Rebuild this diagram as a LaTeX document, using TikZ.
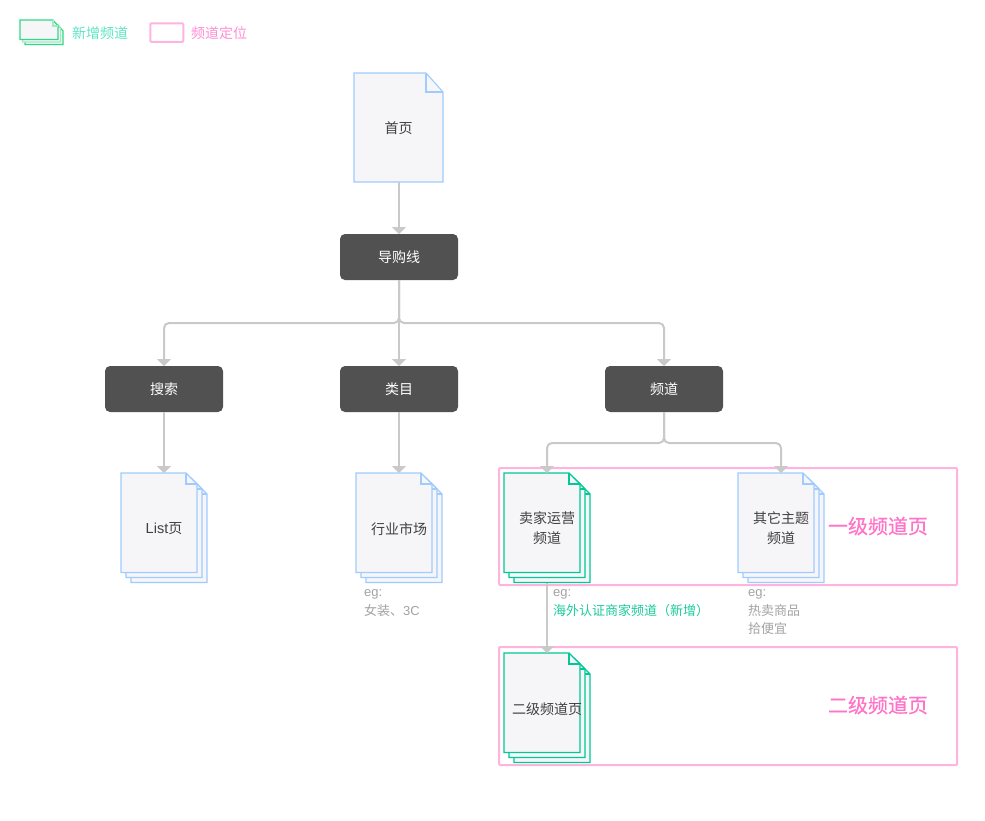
\documentclass[tikz,border=0pt]{standalone}
\usepackage{fontspec}
\setmainfont{Liberation Sans}
\newfontfamily\cjk{Noto Sans CJK SC}
\newfontfamily\cjkheavy[FakeBold=0.35]{Noto Sans CJK SC}
\usetikzlibrary{arrows.meta}
\definecolor{sheetfill}{HTML}{F6F6F9}
\definecolor{sheetblue}{HTML}{9FCBFF}
\definecolor{sheetgreen}{HTML}{00C896}
\definecolor{legendgreen}{HTML}{2FD985}
\definecolor{legendpale}{HTML}{A0EAC6}
\definecolor{linkgrey}{HTML}{C9C9C9}
\definecolor{boxdark}{HTML}{515151}
\definecolor{bandpink}{HTML}{FFB4E0}
\definecolor{titlepink}{HTML}{FF73C8}
\definecolor{legendpink}{HTML}{FF8FD6}
\definecolor{legendmint}{HTML}{5FE5C5}
\definecolor{notegrey}{HTML}{A3A3A3}
\definecolor{bodytext}{HTML}{404040}
\definecolor{notegreen}{HTML}{1CCB9C}

% Caption lowered a little without changing its box, so it stays centred on the same line
\newcommand{\lowered}[1]{\raisebox{-1pt}[\height][\depth]{#1}}

% One sheet of paper with a folded corner: left, top, width, height, fold w, fold h, colour
\newcommand{\papersheet}[7]{%
  \draw[#7, fill=sheetfill, line width=1.1pt, line join=miter]
    (#1,#2) -- ++(#3-#5,0) -- ++(#5,#6) -- ++(0,#4-#6) -- ++(-#3,0) -- cycle;
  \draw[#7, line width=1.1pt] (#1+#3-#5,#2) -- ++(0,#6) -- ++(#5,0);
}
% A pile of three sheets; the named node spans the whole pile and carries its caption
\newcommand{\paperpile}[5]{%
  \papersheet{#2+10}{#3+10}{76}{99.5}{11}{11}{#4}
  \papersheet{#2+5}{#3+5}{76}{99.5}{11}{11}{#4}
  \papersheet{#2}{#3}{76}{99.5}{11}{11}{#4}
  \node[textbox, minimum width=86pt, minimum height=109.5pt, anchor=north west, align=center]
    (#1) at (#2,#3) {#5};
}

\tikzset{
  textbox/.style={inner sep=0pt, outer sep=0pt, text=bodytext, font=\cjk\fontsize{14}{20}\selectfont},
  darkbox/.style={fill=boxdark, rounded corners=5pt, minimum width=118pt, minimum height=46pt,
    inner sep=0pt, outer sep=0pt, text=white, font=\cjk\fontsize{14}{20}\selectfont},
  link/.style={draw=linkgrey, line width=2pt, rounded corners=5pt,
    -{Triangle[width=14pt,length=7pt,fill=linkgrey]}},
  band/.style={draw=bandpink, line width=2pt, rounded corners=1pt, inner sep=0pt, outer sep=0pt,
    minimum width=458pt},
  bandtitle/.style={inner sep=0pt, text=titlepink, font=\cjkheavy\fontsize{20}{24}\selectfont},
  note/.style={inner sep=0pt, anchor=west, text=notegrey, font=\fontsize{13}{16}\selectfont},
}

\begin{document}
\begin{tikzpicture}[x=1pt,y=-1pt]
\useasboundingbox (0,0) rectangle (985,820);
\fill[white] (0,0) rectangle (985,820);

% Legend
\foreach \off/\col in {5/legendgreen,2.5/legendpale}{
  \draw[\col, fill=sheetfill, line width=1.1pt]
    (20+\off,20+\off) -- ++(33,0) -- ++(5,6) -- ++(0,13.5) -- ++(-38,0) -- cycle;
}
\draw[legendgreen, fill=sheetfill, line width=1.1pt] (20,20) -- (53,20) -- (58,26) -- (58,39.5) -- (20,39.5) -- cycle;
\draw[legendpale, line width=1.1pt] (53,20) -- (53,26) -- (58,26);
\node[anchor=west, inner sep=0pt, text=legendmint, font=\cjk\fontsize{14}{16}\selectfont] (legendnew) at (72,33) {新增频道};
\node[draw=bandpink, line width=2pt, rounded corners=1pt, minimum width=33pt, minimum height=18.5pt,
  inner sep=0pt, outer sep=0pt, anchor=north west] (legendband) at (150.3,23.3) {};
\node[anchor=west, inner sep=0pt, text=legendpink, font=\cjk\fontsize{14}{16}\selectfont] (legendpos) at (191,33) {频道定位};

% Channel level bands
\node[band, minimum height=117pt, anchor=north west] (bandone) at (499,468) {};
\node[band, minimum height=118pt, anchor=north west] (bandtwo) at (499,647) {};
\node[bandtitle] (titleone) at (878,526) {一级频道页};
\node[bandtitle] (titletwo) at (878,705) {二级频道页};

% Boxes
\node[darkbox] (guide) at (399,257) {导购线};
\node[darkbox] (search) at (164,389) {搜索};
\node[darkbox] (category) at (399,389) {类目};
\node[darkbox] (channel) at (664,389) {频道};

% Home page sheet
\papersheet{354}{73}{89}{109}{17}{19}{sheetblue}
\node[textbox, minimum width=89pt, minimum height=109pt, anchor=north west] (home) at (354,73) {\lowered{首页}};

% Paper piles
\paperpile{list}{121}{473}{sheetblue}{\lowered{{\fontspec{Liberation Sans}\fontsize{14.5}{20}\selectfont List}页}}
\paperpile{market}{356}{473}{sheetblue}{\lowered{行业市场}}
\paperpile{seller}{504}{473}{sheetgreen}{卖家运营\\频道}
\paperpile{theme}{738}{473}{sheetblue}{其它主题\\频道}
\paperpile{second}{504}{653}{sheetgreen}{\lowered{二级频道页}}

% Connectors
\draw[link] (guide.north |- home.south) -- (guide.north);
\draw[link] (guide.south) -- (category.north);
\draw[link] (guide.south) -- ++(0,43) -| (search.north);
\draw[link] (guide.south) -- ++(0,43) -| (channel.north);
\draw[link] (search.south) -- (list.north);
\draw[link] (category.south) -- (market.north);
\draw[link] (channel.south) -- ++(0,31) -| (seller.north);
\draw[link] (channel.south) -- ++(0,31) -| (theme.north);
\draw[link] (seller.south) -- (second.north);

% Notes under the piles
\node[note] (marketeg) at (364,594.5) {eg:};
\node[note] (marketex) at (364,611) {{\cjk 女装、}3C};
\node[note] (sellereg) at (553,594.5) {eg:};
\node[note, text=notegreen, font=\cjk\fontsize{13}{16}\selectfont] (sellerex) at (553,611) {海外认证商家频道（新增\kern0pt）};
\node[note] (themeeg) at (748,594.5) {eg:};
\node[note, font=\cjk\fontsize{13}{16}\selectfont] (themeex) at (748,611) {热卖商品};
\node[note, font=\cjk\fontsize{13}{16}\selectfont] (themeey) at (748,629) {拾便宜};
\end{tikzpicture}
\end{document}
